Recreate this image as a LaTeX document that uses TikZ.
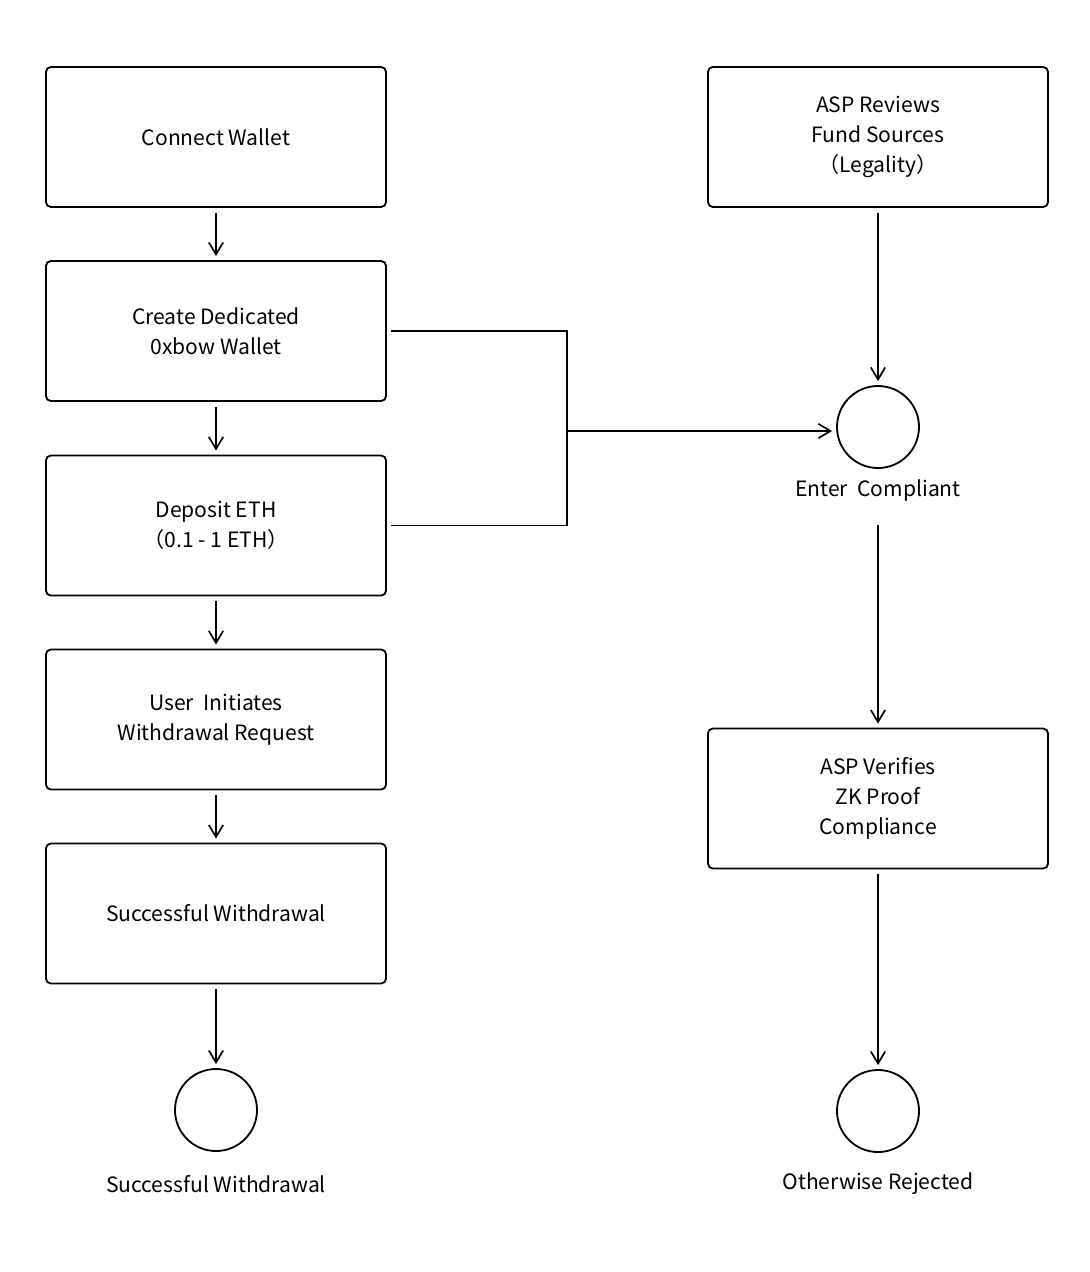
\documentclass[tikz,border=0pt]{standalone}
\usepackage{fontspec}
\setmainfont{Noto Sans CJK SC}
\usetikzlibrary{arrows.meta,positioning}

\begin{document}
\begin{tikzpicture}[x=0.025cm,y=-0.025cm,
	stepbox/.style={draw, line width=1.3pt, rounded corners=3.5pt, minimum width=8.5cm, minimum height=3.5cm, align=center, font=\fontsize{15}{21.3}\selectfont},
	endpoint/.style={draw, circle, line width=1.3pt, minimum size=2.05cm, inner sep=0pt},
	caption/.style={font=\fontsize{15}{21.3}\selectfont},
	flow/.style={line width=1.2pt, -{Straight Barb[length=3mm,width=3.6mm]}, shorten <=0.12cm, shorten >=0.1cm}]
				\useasboundingbox (0,0) rectangle (1090,1272);
				
				% left column
				\node [stepbox] (wallet) at (216,137) {Connect Wallet};
				\node [stepbox] (create) at (216,331) {Create Dedicated\\0xbow Wallet};
				\node [stepbox] (deposit) at (216,525.5) {Deposit ETH\\（0.1 - 1 ETH）};
				\node [stepbox] (request) at (216,719.5) {User~~Initiates\\Withdrawal Request};
				\node [stepbox] (success) at (216,913.5) {Successful Withdrawal};
				\node [endpoint] (done) at (216,1110) {};
				\node [caption] (donelabel) at (216,1184) {Successful Withdrawal};
				
				% right column
				\node [stepbox] (review) at (878,137) {ASP Reviews\\Fund Sources\\（Legality）};
				\node [endpoint] (enter) at (878,427) {};
				\node [caption] (enterlabel) at (878,491) {Enter~~Compliant};
				\node [stepbox] (verify) at (878,798.5) {ASP Verifies\\ZK Proof\\Compliance};
				\node [endpoint] (reject) at (878,1111) {};
				\node [caption] (rejectlabel) at (878,1184) {Otherwise Rejected};
				
				\draw [flow] (wallet) -- (create);
				\draw [flow] (create) -- (deposit);
				\draw [flow] (deposit) -- (request);
				\draw [flow] (request) -- (success);
				\draw [flow] (success) -- (done);
				
				\draw [flow] (review) -- (enter);
				\draw [flow, shorten <=0.45cm] (enterlabel) -- (verify);
				\draw [flow] (verify) -- (reject);
				
				% % % % % % % % % % % % % % % % % % % % % % % % % %
				
				\coordinate (join) at (567,431);
				\draw [line width=1.2pt, shorten <=0.1cm, shorten >=0.1cm] (create.east) -- (create.east -| join) -- (deposit.east -| join) -- (deposit.east);
				\draw [flow, shorten <=0pt] (join) -- (join -| enter.west);
\end{tikzpicture}
\end{document}
